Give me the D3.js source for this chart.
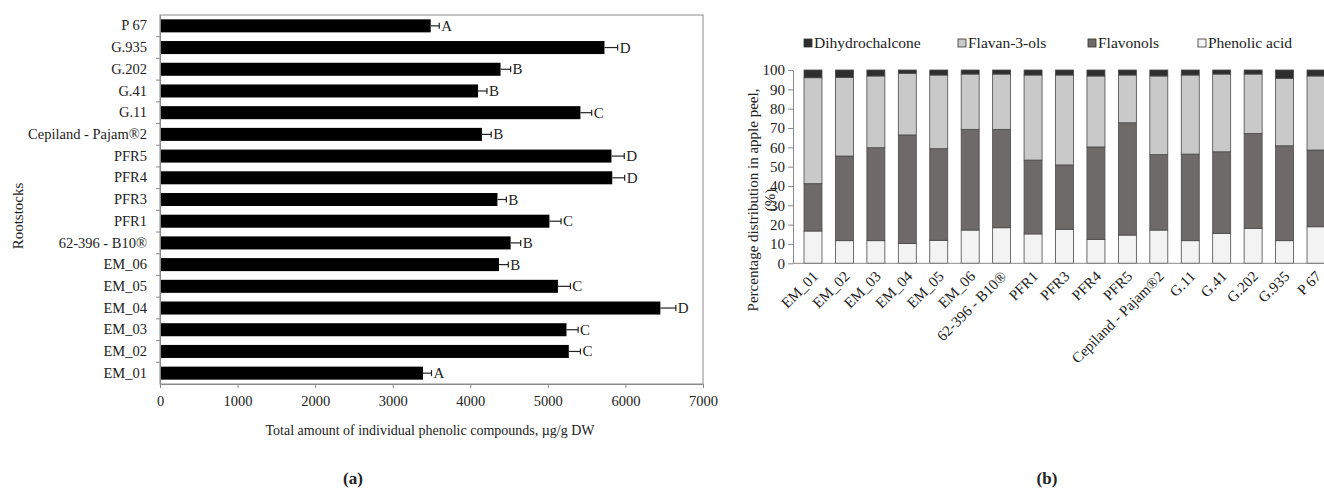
<!DOCTYPE html>
<html>
<head>
<meta charset="utf-8">
<script src="https://cdn.jsdelivr.net/npm/d3@7"></script>
<style>
  body { margin: 0; background: #fff; }
  text { font-family: "Liberation Serif", "Times New Roman", serif; fill: #222; }
</style>
</head>
<body>
<div id="chart-area"></div>
<script>
// categories (same order in both panels)
var rootstocks = ["EM_01", "EM_02", "EM_03", "EM_04", "EM_05", "EM_06", "62-396 - B10®",
	"PFR1", "PFR3", "PFR4", "PFR5", "Cepiland - Pajam®2", "G.11", "G.41", "G.202", "G.935", "P 67"];

// (a) total phenolics, µg/g DW
var totals = [3390, 5270, 5240, 6450, 5130, 4370, 4520, 5020, 4350, 5830, 5820, 4150, 5420, 4100, 4390, 5730, 3490];
var errors = [110, 150, 150, 200, 160, 120, 130, 150, 115, 160, 165, 120, 145, 115, 130, 170, 110];
var letters = ["A", "C", "C", "D", "C", "B", "B", "C", "B", "D", "D", "B", "C", "B", "B", "D", "A"];
var xTicksA = [0, 1000, 2000, 3000, 4000, 5000, 6000, 7000];

// (b) percentage distribution
var phenolicAcid = [16.7, 11.7, 11.7, 10.2, 11.9, 17.2, 18.4, 15.2, 17.6, 12.4, 14.6, 17.2, 11.7, 15.5, 18.1, 11.7, 18.9];
var flavonols = [24.5, 43.8, 48.1, 56.2, 47.4, 52.1, 50.9, 38.2, 33.3, 47.8, 58.1, 39.0, 44.8, 42.2, 49.1, 49.1, 39.7];
var flavan3ols = [54.8, 40.7, 37.1, 31.9, 38.1, 28.6, 28.6, 44.0, 46.5, 36.7, 24.7, 40.7, 40.9, 40.2, 30.7, 34.9, 38.3];
var dihydrochalcone = [4.0, 3.8, 3.1, 1.7, 2.6, 2.1, 2.1, 2.6, 2.6, 3.1, 2.6, 3.1, 2.6, 2.1, 2.1, 4.3, 3.1];
var yTicksB = [0, 10, 20, 30, 40, 50, 60, 70, 80, 90, 100];

var legendKeys = ["Dihydrochalcone", "Flavan-3-ols", "Flavonols", "Phenolic acid"];
var colors = {
	"Dihydrochalcone": "#2e2e2e",
	"Flavan-3-ols": "#c9c9c9",
	"Flavonols": "#6e6a6a",
	"Phenolic acid": "#f3f3f3"
};

var svg = d3.select("#chart-area").append("svg")
	.attr("width", 1324)
	.attr("height", 492)
	.style("display", "block");

svg.append("rect").attr("width", 1324).attr("height", 492).attr("fill", "#fff");

// ---------- panel (a) ----------

var xA = d3.scaleLinear().domain([0, 7000]).range([160, 703]);
var yA = d3.scaleBand()
	.domain(rootstocks.slice().reverse())
	.range([15, 384])
	.paddingInner(0.4)
	.paddingOuter(0.2);

var gA = svg.append("g");

// frame
gA.append("rect")
	.attr("x", 160).attr("y", 15)
	.attr("width", 543).attr("height", 369)
	.attr("fill", "none").attr("stroke", "#8a8a8a").attr("stroke-width", 1);

var rowsA = rootstocks.map((name, i) => {
	return {name: name, value: totals[i], err: errors[i], letter: letters[i]};
});

gA.selectAll("rect.bar").data(rowsA).enter()
	.append("rect")
		.attr("class", "bar")
		.attr("x", xA(0))
		.attr("y", (d) => yA(d.name))
		.attr("width", (d) => xA(d.value) - xA(0))
		.attr("height", yA.bandwidth())
		.attr("fill", "#000");

// error bars
var errG = gA.selectAll("g.err").data(rowsA).enter().append("g").attr("class", "err");
errG.append("line")
	.attr("x1", (d) => xA(d.value))
	.attr("x2", (d) => xA(d.value + d.err))
	.attr("y1", (d) => yA(d.name) + yA.bandwidth() / 2)
	.attr("y2", (d) => yA(d.name) + yA.bandwidth() / 2)
	.attr("stroke", "#222").attr("stroke-width", 1.2);
errG.append("line")
	.attr("x1", (d) => xA(d.value + d.err))
	.attr("x2", (d) => xA(d.value + d.err))
	.attr("y1", (d) => yA(d.name) + yA.bandwidth() / 2 - 3)
	.attr("y2", (d) => yA(d.name) + yA.bandwidth() / 2 + 3)
	.attr("stroke", "#222").attr("stroke-width", 1.2);
errG.append("text")
	.attr("x", (d) => xA(d.value + d.err) + 2)
	.attr("y", (d) => yA(d.name) + yA.bandwidth() / 2 + 5)
	.attr("font-size", "15px")
	.text((d) => d.letter);

// x axis
var xAxisA = d3.axisBottom(xA).tickValues(xTicksA).tickSize(4).tickSizeOuter(0).tickFormat(d3.format("d"));
var axA = gA.append("g")
	.attr("transform", "translate(0, 384)")
	.call(xAxisA);
axA.select(".domain").attr("stroke", "#8a8a8a");
axA.selectAll(".tick line").attr("stroke", "#8a8a8a");
axA.selectAll(".tick text")
	.attr("y", 12)
	.attr("font-size", "14.5px")
	.attr("font-family", "Liberation Serif, serif")
	.attr("fill", "#222");

// y axis
var yAxisA = d3.axisLeft(yA).tickSize(0).tickPadding(13);
var ayA = gA.append("g")
	.attr("transform", "translate(160, 0)")
	.call(yAxisA);
ayA.select(".domain").attr("stroke", "#8a8a8a");
ayA.selectAll(".tick text")
	.attr("font-size", "14.5px")
	.attr("font-family", "Liberation Serif, serif")
	.attr("fill", "#222");

// small ticks between categories
var boundaries = rootstocks.slice().reverse().slice(1).map((n) => yA(n) - yA.step() * yA.paddingInner() / 2);
gA.selectAll("line.cat").data(boundaries).enter()
	.append("line")
		.attr("x1", 156).attr("x2", 160)
		.attr("y1", (d) => d).attr("y2", (d) => d)
		.attr("stroke", "#8a8a8a");

gA.append("text")
	.attr("x", 430).attr("y", 435)
	.attr("text-anchor", "middle")
	.attr("font-size", "14px")
	.text("Total amount of individual  phenolic compounds, µg/g DW");

gA.append("text")
	.attr("transform", "translate(23, 216) rotate(-90)")
	.attr("text-anchor", "middle")
	.attr("font-size", "15px")
	.text("Rootstocks");

svg.append("text")
	.attr("x", 353).attr("y", 484)
	.attr("text-anchor", "middle")
	.attr("font-size", "17px")
	.attr("font-weight", "bold")
	.text("(a)");

// ---------- panel (b) ----------

var xB = d3.scaleBand()
	.domain(rootstocks)
	.range([793, 1336])
	.paddingInner(0.428)
	.paddingOuter(0.35);
var yB = d3.scaleLinear().domain([0, 100]).range([263.3, 70]);

var gB = svg.append("g");

var rowsB = rootstocks.map((name, i) => {
	return {
		name: name,
		"Phenolic acid": phenolicAcid[i],
		"Flavonols": flavonols[i],
		"Flavan-3-ols": flavan3ols[i],
		"Dihydrochalcone": dihydrochalcone[i]
	};
});

var stack = d3.stack().keys(["Phenolic acid", "Flavonols", "Flavan-3-ols", "Dihydrochalcone"]);
var series = stack(rowsB);

gB.selectAll("g.series").data(series).enter()
	.append("g")
		.attr("class", "series")
		.attr("fill", (s) => colors[s.key])
	.selectAll("rect").data((s) => s).enter()
	.append("rect")
		.attr("x", (d) => xB(d.data.name))
		.attr("y", (d) => yB(d[1]))
		.attr("width", xB.bandwidth())
		.attr("height", (d) => yB(d[0]) - yB(d[1]))
		.attr("stroke", "#4a4a4a")
		.attr("stroke-width", 0.8);

// y axis
var yAxisB = d3.axisLeft(yB).tickValues(yTicksB).tickSize(5).tickSizeOuter(0);
var ayB = gB.append("g")
	.attr("transform", "translate(793, 0)")
	.call(yAxisB);
ayB.select(".domain").attr("stroke", "#8a8a8a");
ayB.selectAll(".tick line").attr("stroke", "#8a8a8a");
ayB.selectAll(".tick text")
	.attr("x", -8)
	.attr("font-size", "15px")
	.attr("font-family", "Liberation Serif, serif")
	.attr("fill", "#222");

// x axis
var xAxisB = d3.axisBottom(xB).tickSize(0).tickSizeOuter(0);
var axB = gB.append("g")
	.attr("transform", "translate(0, 263.3)")
	.call(xAxisB);
axB.select(".domain").attr("stroke", "#8a8a8a").attr("d", "M0,0H1324");
axB.select(".domain").attr("d", "M793,0H1324").attr("transform", null);
axB.selectAll(".tick text")
	.attr("text-anchor", "end")
	.attr("font-size", "15px")
	.attr("font-family", "Liberation Serif, serif")
	.attr("fill", "#222")
	.attr("dy", null)
	.attr("y", 0)
	.attr("transform", "translate(6, 14) rotate(-45)");

gB.append("text")
	.attr("transform", "translate(758, 200) rotate(-90)")
	.attr("text-anchor", "middle")
	.attr("font-size", "15px")
	.text("Percentage distribution in apple peel,");
gB.append("text")
	.attr("transform", "translate(775, 200) rotate(-90)")
	.attr("text-anchor", "middle")
	.attr("font-size", "15px")
	.text("(%)");

// legend
var legendX = {"Dihydrochalcone": 804, "Flavan-3-ols": 958, "Flavonols": 1088, "Phenolic acid": 1198};
var leg = gB.selectAll("g.legend").data(legendKeys).enter()
	.append("g")
		.attr("class", "legend")
		.attr("transform", (d) => "translate(" + legendX[d] + ", 43)");
leg.append("rect")
	.attr("x", 0).attr("y", -4)
	.attr("width", 8).attr("height", 8)
	.attr("fill", (d) => colors[d])
	.attr("stroke", "#333").attr("stroke-width", 0.8);
leg.append("text")
	.attr("x", 10).attr("y", 5)
	.attr("font-size", "15.5px")
	.text((d) => d);

svg.append("text")
	.attr("x", 1047).attr("y", 484)
	.attr("text-anchor", "middle")
	.attr("font-size", "17px")
	.attr("font-weight", "bold")
	.text("(b)");
</script>
</body>
</html>
